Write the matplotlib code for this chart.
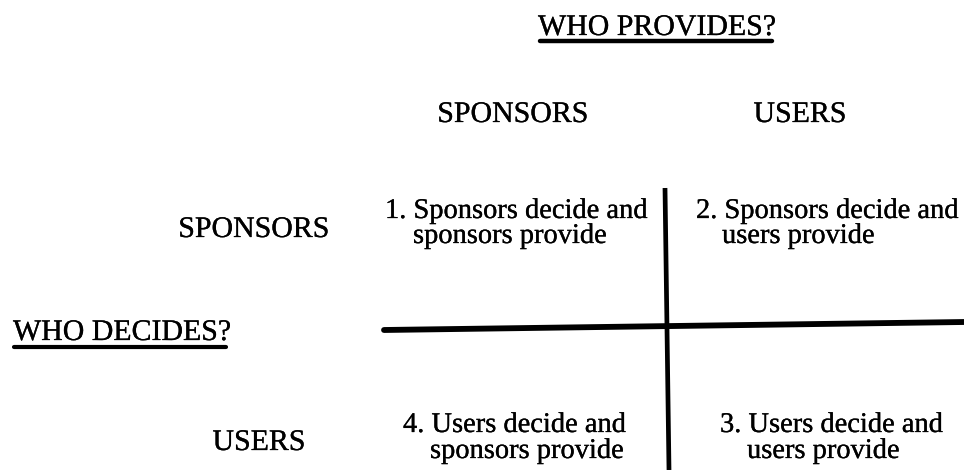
import matplotlib.pyplot as plt
import matplotlib.patheffects as pe

# labels
col_title = "WHO PROVIDES"
row_title = "WHO DECIDES"
col_labels = ["SPONSORS", "USERS"]
row_labels = ["SPONSORS", "USERS"]
cell_first = ["1. Sponsors decide and", "2. Sponsors decide and",
              "4. Users decide and", "3. Users decide and"]
cell_second = ["sponsors provide", "users provide",
               "sponsors provide", "users provide"]

plt.rcParams['font.family'] = ['Liberation Serif', 'DejaVu Serif']

fig = plt.figure(figsize=(9.64, 4.70), dpi=100)
ax = fig.add_axes([0, 0, 1, 1])
ax.set_xlim(0, 964)
ax.set_ylim(470, 0)
ax.axis('off')

hsize = 21.5
csize = 20.5
ink = [pe.withStroke(linewidth=0.2, foreground='black')]

# titles with underline
ax.text(538, 35, col_title + "?", fontsize=hsize, va='baseline', ha='left', path_effects=ink)
ax.plot([540, 772], [41, 41], color='black', lw=3.2, solid_capstyle='round')
ax.text(13, 340, row_title + "?", fontsize=hsize, va='baseline', ha='left', path_effects=ink)
ax.plot([14, 226], [347, 347], color='black', lw=3.0, solid_capstyle='round')

# column / row headers
col_x = [513, 800]
for x, lab in zip(col_x, col_labels):
    ax.text(x, 122, lab, fontsize=hsize, va='baseline', ha='center', path_effects=ink)
row_pos = [(254, 237), (259, 450)]
for (x, y), lab in zip(row_pos, row_labels):
    ax.text(x, y, lab, fontsize=hsize, va='baseline', ha='center', path_effects=ink)

# quadrant text
first_pos = [(385, 218), (696, 218), (403, 432), (720, 432)]
second_pos = [(413, 243), (722, 243), (430, 458), (747, 458)]
for (x, y), s in zip(first_pos, cell_first):
    ax.text(x, y, s, fontsize=csize, va='baseline', ha='left', path_effects=ink)
for (x, y), s in zip(second_pos, cell_second):
    ax.text(x, y, s, fontsize=csize, va='baseline', ha='left', path_effects=ink)

# cross lines
ax.plot([665, 669], [188, 470], color='black', lw=3.4, solid_capstyle='butt')
ax.plot([384, 964], [330, 322], color='black', lw=4.2, solid_capstyle='round')

fig.savefig('out.png', dpi=100)
